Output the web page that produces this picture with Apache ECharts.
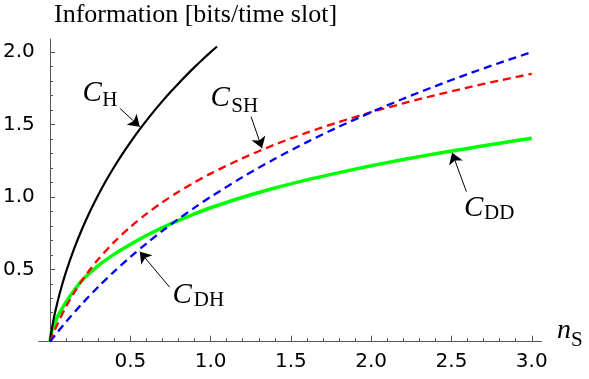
<!DOCTYPE html>
<html>
<head>
<meta charset="utf-8">
<script src="https://cdn.jsdelivr.net/npm/echarts@6/dist/echarts.min.js"></script>
<style>html,body{margin:0;padding:0;background:#fff;}#c{width:589px;height:379px;}</style>
</head>
<body>
<div id="c"></div>
<script>
// C_H (black, solid)
const xH = [0,0.001,0.005,0.01,0.02,0.03,0.05,0.07,0.1,0.15,0.2,0.25,0.3,0.35,0.4,0.45,0.5,0.55,0.6,0.65,0.7,0.75,0.8,0.85,0.9,0.95,1.0,1.04];
const yH = [0,0.0114,0.0455,0.0809,0.1420,0.1957,0.2900,0.3730,0.4834,0.6424,0.7800,0.9024,1.0132,1.1146,1.2084,1.2957,1.3774,1.4544,1.5271,1.5961,1.6616,1.7242,1.7839,1.8412,1.8962,1.9491,2.0,2.039];
// C_SH (red, dashed)
const xSH = [0,0.005,0.01,0.02,0.03,0.05,0.1,0.15,0.2,0.25,0.3,0.4,0.5,0.6,0.7,0.8,0.9,1.0,1.2,1.4,1.6,1.8,2.0,2.2,2.4,2.6,2.8,3.0];
const ySH = [0,0.0143,0.0283,0.0555,0.0818,0.1315,0.2427,0.3390,0.4240,0.5,0.5688,0.6893,0.7925,0.8828,0.9630,1.0352,1.1008,1.1610,1.2680,1.3613,1.4438,1.5178,1.5850,1.6464,1.7030,1.7555,1.8044,1.8502];
// C_DH (blue, dashed)
const xDH = [0,0.05,0.1,0.2,0.3,0.4,0.5,0.6,0.7,0.8,0.9,1.0,1.2,1.4,1.6,1.8,2.0,2.2,2.4,2.6,2.8,3.0];
const yDH = [0,0.0704,0.1375,0.2630,0.3785,0.4854,0.5850,0.6781,0.7655,0.8480,0.9260,1.0,1.1375,1.2630,1.3785,1.4854,1.5850,1.6781,1.7655,1.8480,1.9260,2.0];
// C_DD (green, solid)
const xDD = [0,0.005,0.01,0.02,0.035,0.05,0.1,0.15,0.2,0.3,0.4,0.5,0.6,0.7,0.8,0.9,1.0,1.2,1.4,1.6,1.8,2.0,2.2,2.4,2.6,2.8,3.0];
const yDD = [0,0.045,0.07,0.1,0.145,0.18,0.275,0.355,0.425,0.525,0.605,0.672,0.733,0.788,0.838,0.883,0.925,0.998,1.062,1.118,1.168,1.215,1.258,1.298,1.335,1.371,1.405];

const xMajor = [0.5,1.0,1.5,2.0,2.5,3.0];
const xMinor = [0.1,0.2,0.3,0.4,0.6,0.7,0.8,0.9,1.1,1.2,1.3,1.4,1.6,1.7,1.8,1.9,2.1,2.2,2.3,2.4,2.6,2.7,2.8,2.9];
const yMajor = [0.5,1.0,1.5,2.0];
const yMinor = [0.1,0.2,0.3,0.4,0.6,0.7,0.8,0.9,1.1,1.2,1.3,1.4,1.6,1.7,1.8,1.9];

const axisColor = '#555';
const tickFont = 'DejaVu Sans';
const serif = 'Liberation Serif';
const pairs = (xs, ys) => xs.map((x, i) => [x, ys[i]]);

function arrow(p, q) {
  return {
    silent: true, symbol: ['none', 'arrow'], symbolSize: [0, 11],
    itemStyle: { color: '#000' },
    lineStyle: { color: '#000', width: 1, type: 'solid' },
    label: { show: false }, emphasis: { disabled: true },
    data: [[{ coord: p, itemStyle: { color: '#000' } }, { coord: q, symbol: 'arrow', symbolSize: 11, itemStyle: { color: '#000' } }]]
  };
}
function labels(cPos, subPos, sub) {
  return {
    silent: true, symbol: 'circle', symbolSize: 0,
    itemStyle: { color: 'rgba(0,0,0,0)' },
    emphasis: { disabled: true },
    data: [
      { coord: cPos, label: { show: true, position: 'inside', formatter: 'C', fontFamily: serif, fontStyle: 'italic', fontSize: 29, color: '#000' } },
      { coord: subPos, label: { show: true, position: 'inside', formatter: sub, fontFamily: serif, fontSize: 21, color: '#000' } }
    ]
  };
}

const chart = echarts.init(document.getElementById('c'), null, { renderer: 'canvas' });
chart.setOption({
  animation: false,
  grid: { left: 37, right: 47.6, top: 39.1, bottom: 37.3 },
  xAxis: [
    { type: 'value', min: -0.07, max: 3.06, position: 'bottom',
      axisLine: { onZero: false, lineStyle: { color: axisColor, width: 1 } },
      axisTick: { inside: true, length: 6, customValues: xMajor, lineStyle: { color: axisColor } },
      axisLabel: { customValues: xMajor, formatter: v => v.toFixed(1), margin: 10, fontFamily: tickFont, fontSize: 20, color: '#000' },
      splitLine: { show: false } },
    { type: 'value', min: -0.07, max: 3.06, position: 'bottom',
      axisLine: { show: false, onZero: false },
      axisTick: { inside: true, length: 3.5, customValues: xMinor, lineStyle: { color: axisColor } },
      axisLabel: { show: false }, splitLine: { show: false } }
  ],
  yAxis: [
    { type: 'value', min: 0, max: 2.09, position: 'left',
      axisLine: { onZero: true, onZeroAxisIndex: 0, lineStyle: { color: axisColor, width: 1 } },
      axisTick: { inside: true, length: 5, customValues: yMajor, lineStyle: { color: axisColor } },
      axisLabel: { customValues: yMajor, formatter: v => v.toFixed(1), margin: 4, fontFamily: tickFont, fontSize: 20, color: '#000' },
      splitLine: { show: false } },
    { type: 'value', min: 0, max: 2.09, position: 'left',
      axisLine: { show: true, onZero: true, onZeroAxisIndex: 0, lineStyle: { color: 'rgba(0,0,0,0)' } },
      axisTick: { inside: true, length: 3, customValues: yMinor, lineStyle: { color: axisColor } },
      axisLabel: { show: false }, splitLine: { show: false } }
  ],
  graphic: [
    { type: 'text', x: 54, y: 15.5, style: { text: 'Information [bits/time slot]', font: '26px "Liberation Serif"', fill: '#000', align: 'left', verticalAlign: 'middle' } },
    { type: 'text', x: 557, y: 330.5, style: { text: 'n', font: 'italic 28px "Liberation Serif"', fill: '#000', align: 'left', verticalAlign: 'middle' } },
    { type: 'text', x: 571, y: 340, style: { text: 'S', font: '21px "Liberation Serif"', fill: '#000', align: 'left', verticalAlign: 'middle' } }
  ],
  series: [
    { name: 'C_DD', type: 'line', data: pairs(xDD, yDD), showSymbol: false, symbol: 'none', smooth: 0.3,
      lineStyle: { color: '#00ff00', width: 3.5 }, z: 2,
      markLine: arrow([2.593, 1.036], [2.504, 1.305]), markPoint: labels([2.638, 0.918], [2.797, 0.883], 'DD') },
    { name: 'C_H', type: 'line', data: pairs(xH, yH), showSymbol: false, symbol: 'none', smooth: 0.3,
      lineStyle: { color: '#000', width: 2.2 }, z: 3,
      markLine: arrow([0.4345, 1.612], [0.5587, 1.485]), markPoint: labels([0.262, 1.715], [0.372, 1.664], 'H') },
    { name: 'C_SH', type: 'line', data: pairs(xSH, ySH), showSymbol: false, symbol: 'none', smooth: 0.3,
      lineStyle: { color: '#ff0000', width: 2.3, type: [8, 5] }, z: 4,
      markLine: arrow([1.252, 1.554], [1.320, 1.336]), markPoint: labels([1.060, 1.683], [1.212, 1.628], 'SH') },
    { name: 'C_DH', type: 'line', data: pairs(xDH, yDH), showSymbol: false, symbol: 'none', smooth: 0.3,
      lineStyle: { color: '#0000ff', width: 2.3, type: [8, 5] }, z: 5,
      markLine: arrow([0.745, 0.376], [0.559, 0.622]), markPoint: labels([0.823, 0.3225], [0.990, 0.2825], 'DH') }
  ]
});
</script>
</body>
</html>
